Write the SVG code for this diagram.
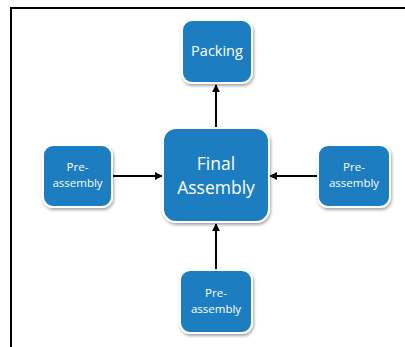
<svg xmlns="http://www.w3.org/2000/svg" width="405" height="347" viewBox="0 0 405 347">
  <defs>
    <filter id="shadow" x="-20%" y="-20%" width="140%" height="140%">
      <feDropShadow dx="1" dy="2" stdDeviation="1.5" flood-color="#000" flood-opacity="0.35"/>
    </filter>
    <marker id="arrow" viewBox="0 0 10 10" refX="9" refY="5" markerWidth="4" markerHeight="4" orient="auto-start-reverse">
      <path d="M0,0 L10,5 L0,10 z" fill="#000"/>
    </marker>
  </defs>
  <style>
    .box { fill: #1f7ec0; stroke: #ffffff; stroke-width: 2; filter: url(#shadow); }
    .lbl { fill: #ffffff; font-family: "Open Sans", "Noto Sans", sans-serif; text-anchor: middle; }
    .conn { stroke: #000; stroke-width: 2; fill: none; marker-end: url(#arrow); }
  </style>
  <rect width="405" height="347" fill="#ffffff"/>
  <!-- frame -->
  <path d="M11,347 V8 H405" fill="none" stroke="#000" stroke-width="2"/>

  <g id="connectors">
    <line class="conn" x1="216" y1="128" x2="216" y2="85"/>
    <line class="conn" x1="113" y1="176" x2="162" y2="176"/>
    <line class="conn" x1="318" y1="176" x2="270" y2="176"/>
    <line class="conn" x1="216" y1="270" x2="216" y2="224"/>
  </g>

  <g id="packing">
    <rect class="box" x="182" y="20" width="70" height="63" rx="10"/>
    <text class="lbl" x="217" y="56" font-size="14.5">Packing</text>
  </g>

  <g id="final-assembly">
    <rect class="box" x="163" y="128" width="106" height="94" rx="13"/>
    <text class="lbl" x="216" y="170" font-size="17.5">Final</text>
    <text class="lbl" x="216" y="194" font-size="17.5">Assembly</text>
  </g>

  <g id="pre-assembly-left">
    <rect class="box" x="43" y="145" width="69" height="62" rx="10"/>
    <text class="lbl" x="77.5" y="171" font-size="11.5">Pre-</text>
    <text class="lbl" x="77.5" y="187" font-size="11.5">assembly</text>
  </g>

  <g id="pre-assembly-right">
    <rect class="box" x="318" y="145" width="72" height="62" rx="10"/>
    <text class="lbl" x="354" y="171" font-size="11.5">Pre-</text>
    <text class="lbl" x="354" y="187" font-size="11.5">assembly</text>
  </g>

  <g id="pre-assembly-bottom">
    <rect class="box" x="180" y="270" width="72" height="63" rx="10"/>
    <text class="lbl" x="216" y="297" font-size="11.5">Pre-</text>
    <text class="lbl" x="216" y="313" font-size="11.5">assembly</text>
  </g>
</svg>
